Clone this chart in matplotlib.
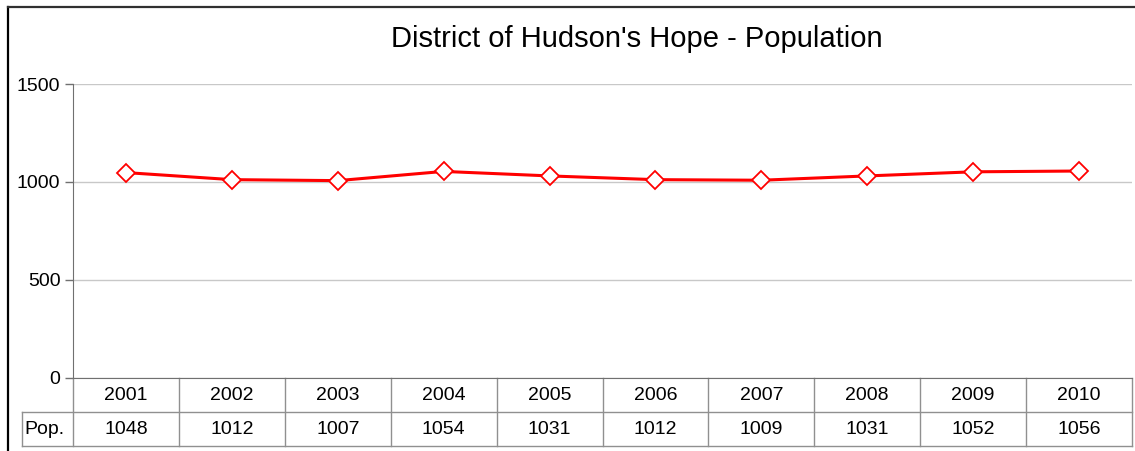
import matplotlib.pyplot as plt
from matplotlib.lines import Line2D

years = ['2001', '2002', '2003', '2004', '2005', '2006', '2007', '2008', '2009', '2010']
pop = [1048, 1012, 1007, 1054, 1031, 1012, 1009, 1031, 1052, 1056]
yticks = [0, 500, 1000, 1500]

plt.rcParams['font.family'] = ['Liberation Sans', 'DejaVu Sans']

W, H = 1135, 451
fig = plt.figure(figsize=(W / 100, H / 100), dpi=100)

# plot area in pixels
left, right, top, bottom = 73, 1132, 84, 378
ax = fig.add_axes([left / W, 1 - bottom / H, (right - left) / W, (bottom - top) / H])

x = list(range(len(years)))
ax.plot(x, pop, color='#ff0000', lw=2.2, marker='D', ms=9, mfc='white',
        mec='#ff0000', mew=1.3, zorder=3)

ax.set_xlim(-0.5, len(years) - 0.5)
ax.set_ylim(0, 1500)
ax.set_yticks(yticks)
ax.set_yticklabels([str(v) for v in yticks], fontsize=14)
ax.set_xticks([])
ax.yaxis.grid(True, color='#c8c8c8', lw=1)
ax.set_axisbelow(True)
ax.tick_params(axis='y', length=6, color='#707070', width=1, pad=3)
for s in ['top', 'right']:
    ax.spines[s].set_visible(False)
ax.spines['left'].set_color('#707070')
ax.spines['bottom'].set_color('#707070')

# data table under the plot
row_h = 34 / (bottom - top)
n = len(years)
tc = '#909090'
tr = ax.transAxes
fs = 14
for i in range(n + 1):
    xx = i / n
    ax.add_line(Line2D([xx, xx], [0, -2 * row_h], transform=tr, color=tc, lw=1, clip_on=False))
for yy in [-row_h, -2 * row_h]:
    ax.add_line(Line2D([-51 / (right - left), 1], [yy, yy], transform=tr, color=tc, lw=1, clip_on=False))
lab_x = -51 / (right - left)
ax.add_line(Line2D([lab_x, lab_x], [-row_h, -2 * row_h], transform=tr, color=tc, lw=1, clip_on=False))
for i in range(n):
    cx = (i + 0.5) / n
    ax.text(cx, -0.5 * row_h, years[i], transform=tr, ha='center', va='center', fontsize=fs)
    ax.text(cx, -1.5 * row_h, str(pop[i]), transform=tr, ha='center', va='center', fontsize=fs)
ax.text(lab_x + 0.002, -1.5 * row_h, 'Pop.', transform=tr, ha='left', va='center', fontsize=fs)

fig.text(637 / W, 1 - 39 / H, "District of Hudson's Hope - Population",
         ha='center', va='center', fontsize=21)

# chart frame
fig.add_artist(Line2D([8 / W, 8 / W], [0, 1 - 7 / H], color='black', lw=1.6))
fig.add_artist(Line2D([8 / W, 1], [1 - 7 / H, 1 - 7 / H], color='#303030', lw=1.6))

fig.savefig('out.png', dpi=100)
